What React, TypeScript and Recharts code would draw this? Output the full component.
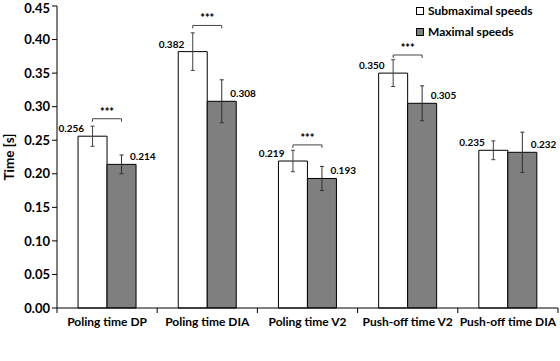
import { BarChart, Bar, XAxis, YAxis, ErrorBar, LabelList, Legend } from "recharts";

const categories = ["Poling time DP", "Poling time DIA", "Poling time V2", "Push-off time V2", "Push-off time DIA"];
const submaximal = [0.256, 0.382, 0.219, 0.35, 0.235];
const submaximalErr = [0.015, 0.028, 0.016, 0.02, 0.014];
const maximal = [0.214, 0.308, 0.193, 0.305, 0.232];
const maximalErr = [0.014, 0.032, 0.018, 0.026, 0.03];
// height of the *** bracket, null where there is none
const bracketAt: Array<number | null> = [0.282, 0.421, 0.243, 0.377, null];
const yTicks = [0, 0.05, 0.1, 0.15, 0.2, 0.25, 0.3, 0.35, 0.4, 0.45];

const data = categories.map((name, i) => ({
  name,
  sub: submaximal[i],
  subErr: submaximalErr[i],
  max: maximal[i],
  maxErr: maximalErr[i],
}));

const FONT = "Lato, 'Open Sans', sans-serif";
const W = 560;
const H = 361;
const margin = { top: 6, right: 2, bottom: 23, left: 12 };
const yAxisWidth = 45;
const bandWidth = (W - margin.left - margin.right - yAxisWidth) / categories.length;

const SubLabel = (props: any) => {
  const { x, y, width, height, value, index } = props;
  const k = height / value;
  const b = bracketAt[index];
  return (
    <g>
      <text x={x + 6} y={y - 4} textAnchor="end" fontSize={10} fontWeight={700} fontFamily={FONT} fill="#000">
        {Number(value).toFixed(3)}
      </text>
      {b != null && (
        <g>
          <path
            d={`M${x + width / 2},${y + height - b * k + 3} V${y + height - b * k} H${x + width * 1.5} V${y + height - b * k + 3}`}
            stroke="#444"
            fill="none"
            strokeWidth={1}
          />
          <text x={x + width} y={y + height - b * k - 3} textAnchor="middle" fontSize={11} fontWeight={900} fontFamily={FONT} fill="#000">
            ***
          </text>
        </g>
      )}
    </g>
  );
};

const MaxLabel = (props: any) => {
  const { x, y, width, value } = props;
  return (
    <text x={x + width - 6} y={y - 4} textAnchor="start" fontSize={10} fontWeight={700} fontFamily={FONT} fill="#000">
      {Number(value).toFixed(3)}
    </text>
  );
};

const CatTick = (props: any) => {
  const { x, y, payload, index } = props;
  const axisY = y - 7;
  return (
    <g>
      <line x1={x + bandWidth / 2} y1={axisY} x2={x + bandWidth / 2} y2={axisY + 5} stroke="#000" />
      {index === 0 && <line x1={x - bandWidth / 2} y1={axisY} x2={x - bandWidth / 2} y2={axisY + 5} stroke="#000" />}
      <text x={x} y={y + 11} textAnchor="middle" fontSize={12} fontWeight={700} fontFamily={FONT} fill="#000">
        {payload.value}
      </text>
    </g>
  );
};

const LegendBox = () => (
  <div style={{ fontFamily: FONT, fontSize: 12, fontWeight: 700, color: "#000", lineHeight: "21px" }}>
    <div style={{ display: "flex", alignItems: "center" }}>
      <span style={{ width: 6, height: 6, border: "1px solid #000", background: "#fff", marginRight: 4 }} />
      Submaximal speeds
    </div>
    <div style={{ display: "flex", alignItems: "center" }}>
      <span style={{ width: 6, height: 6, border: "1px solid #000", background: "#7f7f7f", marginRight: 4 }} />
      Maximal speeds
    </div>
  </div>
);

export default function App() {
  return (
    <div style={{ position: "absolute", left: 0, top: 0, background: "#fff" }}>
      <BarChart width={W} height={H} data={data} margin={margin} barCategoryGap="21%" barGap={0}>
        <XAxis
          dataKey="name"
          interval={0}
          tickLine={false}
          tickSize={5}
          tickMargin={2}
          tick={<CatTick />}
          axisLine={{ stroke: "#000" }}
        />
        <YAxis
          width={yAxisWidth}
          domain={[0, 0.45]}
          ticks={yTicks}
          tickFormatter={(v: number) => v.toFixed(2)}
          tick={{ fontSize: 13, fontWeight: 700, fontFamily: FONT, fill: "#000" }}
          tickLine={{ stroke: "#000" }}
          tickSize={5}
          tickMargin={2}
          axisLine={{ stroke: "#000" }}
          label={{
            value: "Time [s]",
            angle: -90,
            position: "insideLeft",
            offset: -3,
            style: { fontSize: 13.5, fontWeight: 700, fontFamily: FONT, fill: "#000", textAnchor: "middle" },
          }}
        />
        <Legend
          layout="horizontal"
          verticalAlign="middle"
          align="center"
          content={<LegendBox />}
          wrapperStyle={{ position: "absolute", top: 0, left: 416, width: 140 }}
        />
        <Bar dataKey="sub" name="Submaximal speeds" fill="#fff" stroke="#000" strokeWidth={1} isAnimationActive={false}>
          <ErrorBar dataKey="subErr" width={2} stroke="#404040" strokeWidth={1} />
          <LabelList dataKey="sub" content={<SubLabel />} />
        </Bar>
        <Bar dataKey="max" name="Maximal speeds" fill="#7f7f7f" stroke="#000" strokeWidth={1} isAnimationActive={false}>
          <ErrorBar dataKey="maxErr" width={2} stroke="#303030" strokeWidth={1} />
          <LabelList dataKey="max" content={<MaxLabel />} />
        </Bar>
      </BarChart>
    </div>
  );
}
